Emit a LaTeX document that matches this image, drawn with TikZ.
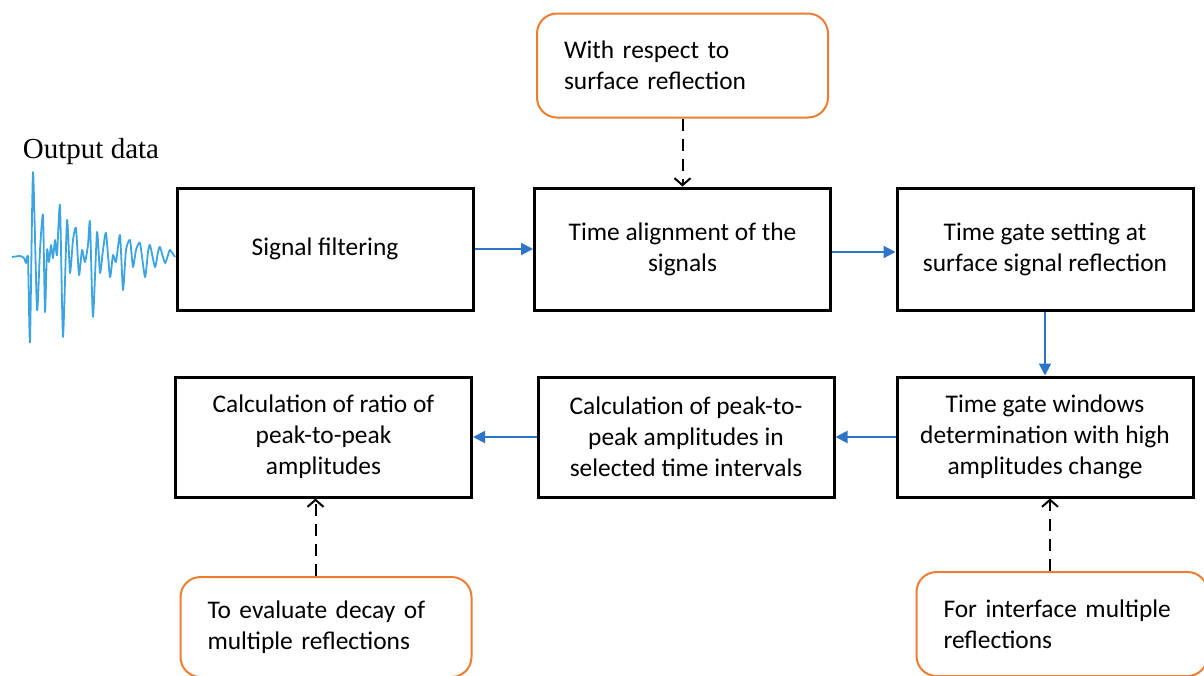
\documentclass[tikz,border=0pt]{standalone}
\usepackage{fontspec}
\setmainfont{Carlito}
\newfontfamily\outfont{Liberation Serif}
\usetikzlibrary{arrows.meta,calc}
\definecolor{orangeC}{RGB}{237,125,49}
\definecolor{blueC}{RGB}{46,117,200}
\definecolor{waveC}{RGB}{60,165,225}
\begin{document}
\begin{tikzpicture}[x=0.5pt,y=-0.5pt,
 txt/.style={font=\fontsize{12.7}{15.5}\selectfont},
 proc/.style={txt,draw=black,line width=1.5pt,minimum width=148pt,minimum height=61pt,align=center,inner sep=0pt},
 note/.style={txt,draw=orangeC,line width=1pt,rounded corners=10pt,align=left,inner xsep=13.5pt,inner ysep=0pt,text width=118.5pt,minimum height=52pt},
 flow/.style={draw=blueC,line width=1pt,-{Triangle[length=6pt,width=6pt]}},
 dep/.style={draw=black,line width=1pt,dash pattern=on 6pt off 4pt,-{Straight Barb[length=3.5pt,width=8pt,line width=1pt]}}]
\clip (0,0) rectangle (1204,675);
\useasboundingbox (0,0) rectangle (1204,675);

% waveform
\draw[waveC,line width=0.9pt,line join=round] plot[smooth,tension=0.35] coordinates {
(12,257)(20,256)(24,258)(26,263)(28,258)(30,342)(33,172)(37,310)(40,250)(43,215)(45,312)(47,250)(49,262)(51,245)(53,258)(55,240)(57,255)(60,205)(63,337)(67,220)(70,273)(73,240)(76,228)(79,275)(82,250)(85,262)(88,245)(90,222)(93,317)(97,232)(100,273)(103,250)(106,233)(110,277)(113,255)(116,262)(120,235)(123,290)(126,250)(130,240)(133,267)(136,250)(140,243)(145,277)(148,252)(150,245)(155,267)(158,252)(160,247)(165,263)(168,255)(170,250)(175,257)};
\node[font=\outfont\fontsize{14.5}{17}\selectfont,inner sep=0pt] (out) at (91,152) {Output data};

% process boxes
\node[proc] (A) at (325,249) {Signal filtering};
\node[proc] (B) at (682.5,249) {Time alignment of the\\signals};
\node[proc] (C) at (1045,249) {Time gate setting at\\surface signal reflection};
\node[proc,minimum height=60pt] (D) at (323.5,437) {Calculation of ratio of\\peak-to-peak\\amplitudes};
\node[proc,minimum height=60pt] (E) at (686,437) {Calculation of peak-to-\\peak amplitudes in\\selected time intervals};
\node[proc,minimum height=60pt] (F) at (1045,437) {Time gate windows\\determination with high\\amplitudes change};

% notes
\node[note] (N1) at (682.5,65.5) {With respect to\\surface reflection};
\node[note,minimum height=50pt] (N2) at (326,627) {To evaluate decay of\\multiple reflections};
\node[note,minimum height=52pt] (N3) at (1062,624) {For interface multiple\\reflections};

% flow arrows
\draw[flow] (A) -- (B);
\draw[flow] ([yshift=-1.5pt]B.east) -- ([yshift=-1.5pt]C.west);
\draw[flow] (C) -- (F);
\draw[flow] (F) -- (E);
\draw[flow] (E) -- (D);

% dependency arrows
\draw[dep] (N1.south) -- (B.north);
\draw[dep] ([xshift=-4pt]D.south |- N2.north) -- ([xshift=-4pt]D.south);
\draw[dep] ([xshift=2.5pt]F.south |- N3.north) -- ([xshift=2.5pt]F.south);
\end{tikzpicture}
\end{document}
